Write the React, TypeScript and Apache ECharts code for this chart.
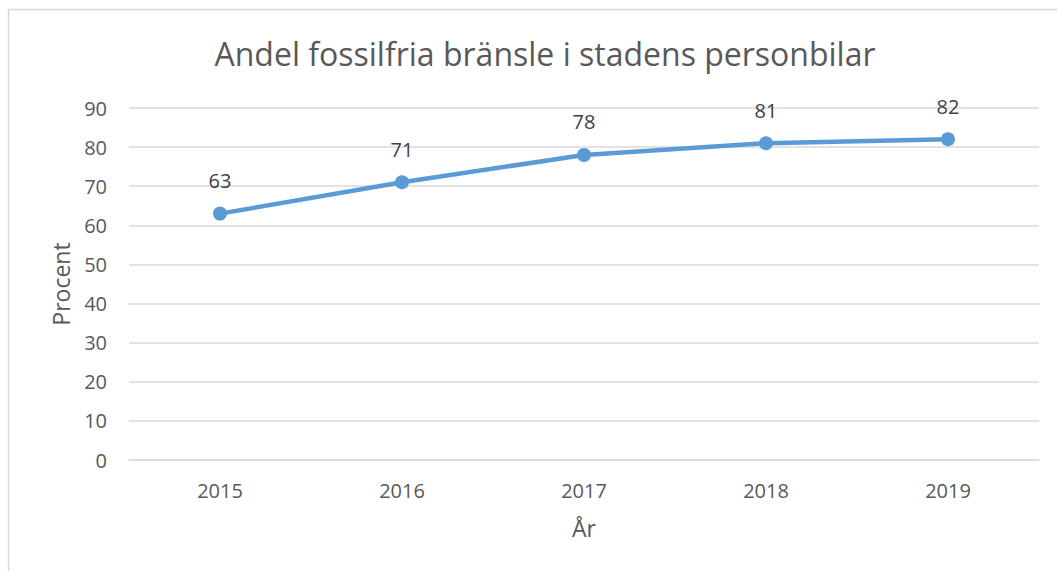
import React, { useEffect, useRef } from "react";
import * as echarts from "echarts";

const title = "Andel fossilfria bränsle i stadens personbilar";
const categories = ["2015", "2016", "2017", "2018", "2019"];
const values = [63, 71, 78, 81, 82];
const yAxisName = "Procent";
const xAxisName = "År";

const FONT = "'Open Sans', sans-serif";

export default function App() {
  const ref = useRef<HTMLDivElement>(null);
  useEffect(() => {
    if (!ref.current) return;
    const chart = echarts.init(ref.current, null, { renderer: "svg" });
    chart.setOption({
      animation: false,
      backgroundColor: "#ffffff",
      textStyle: { fontFamily: FONT },
      title: {
        text: title,
        left: 540,
        textAlign: "center",
        top: 32,
        textStyle: { fontFamily: FONT, fontSize: 32, fontWeight: "normal", color: "#595959" },
      },
      graphic: [
        {
          type: "polyline",
          shape: { points: [[8.5, 600], [8.5, 9.5], [1100, 9.5]] },
          style: { stroke: "#d9d9d9", lineWidth: 1.5, fill: "none" },
          silent: true,
        },
      ],
      grid: { left: 129, right: 18, top: 108, bottom: 111, containLabel: false },
      xAxis: {
        type: "category",
        data: categories,
        boundaryGap: true,
        axisLine: { show: true, lineStyle: { color: "#d9d9d9", width: 1.5 } },
        axisTick: { show: false },
        axisLabel: { color: "#595959", fontSize: 20, fontFamily: FONT, margin: 20 },
        name: xAxisName,
        nameLocation: "middle",
        nameGap: 56,
        nameTextStyle: { color: "#595959", fontSize: 23, fontFamily: FONT },
      },
      yAxis: {
        type: "value",
        min: 0,
        max: 90,
        interval: 10,
        axisLine: { show: false },
        axisTick: { show: false },
        splitLine: { lineStyle: { color: "#d9d9d9", width: 1.5 } },
        axisLabel: { color: "#595959", fontSize: 20, fontFamily: FONT, margin: 22 },
        name: yAxisName,
        nameLocation: "middle",
        nameGap: 57,
        nameRotate: 90,
        nameTextStyle: { color: "#595959", fontSize: 23, fontFamily: FONT },
      },
      series: [
        {
          type: "line",
          data: values,
          symbol: "circle",
          symbolSize: 14,
          lineStyle: { color: "#5b9bd5", width: 4.5 },
          itemStyle: { color: "#5b9bd5" },
          label: {
            show: true,
            position: "top",
            distance: 16,
            color: "#404040",
            fontSize: 20,
            fontFamily: FONT,
          },
        },
      ],
    });
    return () => chart.dispose();
  }, []);
  return (
    <div
      ref={ref}
      style={{ position: "absolute", left: 0, top: 0, width: 1057, height: 571 }}
    />
  );
}
